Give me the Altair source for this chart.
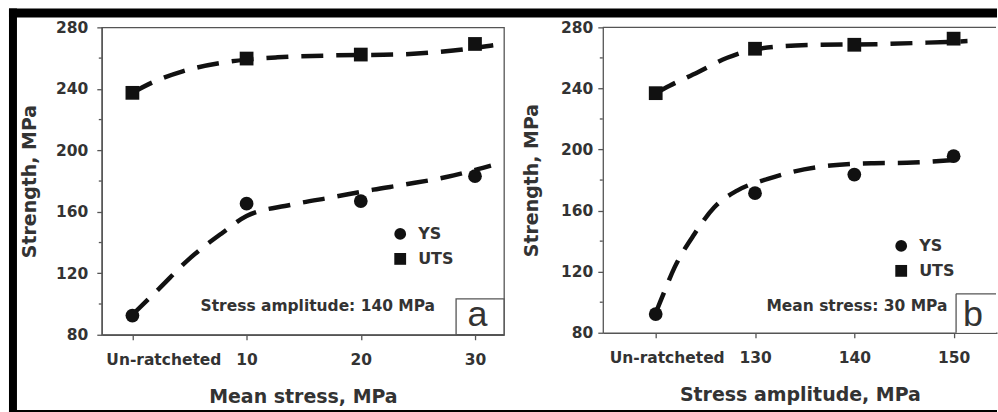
import altair as alt
import pandas as pd

FONT = "DejaVu Sans"
TXT = "#333333"
AX = "#555555"
INK = "#111111"

# ---------------- shared labels / text ----------------
series_names = ["YS", "UTS"]
y_title = "Strength, MPa"
unratcheted = "Un-ratcheted"
y_ticks = [80, 120, 160, 200, 240, 280]
y_minor = [100, 140, 180, 220, 260]

# ---------------- panel a: varying mean stress ----------------
a_title = "Mean stress, MPa"
a_note = "Stress amplitude: 140 MPa"
a_letter = "a"
a_x = [0, 10, 20, 30]
a_ys = [92.5, 165.3, 167.0, 183.2]
a_uts = [237.4, 259.7, 262.3, 269.2]
a_fit_ys_x = [0, 2.3, 5.1, 7.9, 10, 13.8, 17.6, 21.1, 23.9, 27.5, 30.7, 31.4]
a_fit_ys_y = [93, 109.7, 130.2, 146.4, 157.3, 164.4, 169.6, 174.4, 177.8, 182.6, 188.6, 190]
a_fit_uts_x = [0, 2, 4.4, 7.7, 10, 12.7, 17.9, 22.9, 28.1, 31.0, 31.6]
a_fit_uts_y = [237.5, 245, 251.4, 256.8, 259, 260.5, 261.8, 262.3, 264.9, 267.7, 268.3]

# ---------------- panel b: varying stress amplitude ----------------
b_title = "Stress amplitude, MPa"
b_note = "Mean stress: 30 MPa"
b_letter = "b"
b_x = [120, 130, 140, 150]
b_ys = [92.2, 171.4, 183.6, 195.6]
b_uts = [236.9, 266.0, 268.6, 272.6]
b_fit_ys_x = [120, 120.5, 121.9, 123.9, 125.9, 128.2, 131.3, 133.6, 137.6, 142, 145.3, 149.3, 151.4]
b_fit_ys_y = [93, 101, 122.8, 144.7, 162.2, 173.1, 180.8, 185.1, 189.5, 191, 191.3, 192.8, 193.9]
b_fit_uts_x = [120, 121.4, 124.2, 127.2, 130.3, 135.3, 142.3, 147.3, 151.4]
b_fit_uts_y = [237, 241.8, 250.5, 260.1, 266, 268.4, 269, 270, 271]


def one_row():
    return pd.DataFrame({"k": [0]})


def hrule(x1, x2, y):
    return alt.Chart(one_row()).mark_rule(color=AX, strokeWidth=1.3).encode(
        x=alt.value(x1), x2=alt.value(x2), y=alt.value(y))


def vrule(x, y1, y2):
    return alt.Chart(one_row()).mark_rule(color=AX, strokeWidth=1.3).encode(
        x=alt.value(x), y=alt.value(y1), y2=alt.value(y2))


def panel(xs, ys, uts, fx1, fy1, fx2, fy2, domain, width, height, un_value,
          un_offset, ylabpad, ytitlepad, legend_xy, note, note_xy, box, letter,
          letter_xy, xtitle, frame=False):
    pts = pd.DataFrame({"x": xs + xs, "v": ys + uts,
                        "series": [series_names[0]] * len(xs) + [series_names[1]] * len(xs)})
    fit = pd.DataFrame({"x": fx1 + fx2, "v": fy1 + fy2,
                        "series": [series_names[0]] * len(fx1) + [series_names[1]] * len(fx2)})
    minor = pd.DataFrame({"v": y_minor})

    x_axis = alt.Axis(
        values=xs,
        labelExpr=f"datum.value == {un_value} ? '{unratcheted}' : datum.label",
        labelOffset={"condition": {"test": f"datum.value == {un_value}", "value": un_offset}, "value": 0},
        labelFlush=False, labelOverlap=False, labelPadding=13, titlePadding=19,
        grid=False,
    )
    y_axis = alt.Axis(values=y_ticks, labelPadding=ylabpad, titlePadding=ytitlepad, grid=False)
    xenc = alt.X("x:Q", scale=alt.Scale(domain=domain, nice=False, zero=False), axis=x_axis, title=xtitle)
    yenc = alt.Y("v:Q", scale=alt.Scale(domain=[80, 280], nice=False, zero=False), axis=y_axis, title=y_title)

    layers = []
    if frame:
        layers += [
            alt.Chart(one_row()).mark_rect(color="black").encode(
                x=alt.value(-93), x2=alt.value(897), y=alt.value(-19), y2=alt.value(-10)),
            alt.Chart(one_row()).mark_rect(color="black").encode(
                x=alt.value(-93), x2=alt.value(-85), y=alt.value(-19), y2=alt.value(386)),
            alt.Chart(one_row()).mark_rect(color="black").encode(
                x=alt.value(-93), x2=alt.value(897), y=alt.value(383.5), y2=alt.value(386)),
        ]
    else:
        # open-ended plot frame: top line only (right side runs off the picture)
        layers.append(hrule(0, width - 1, 0))
    layers += [
        alt.Chart(minor).mark_rule(color=AX, strokeWidth=1.3).encode(
            y=yenc, x=alt.value(-3), x2=alt.value(0)),
        alt.Chart(fit).mark_line(color=INK, strokeWidth=4.5, strokeDash=[22, 13],
                                 interpolate="monotone").encode(
            x=xenc, y=yenc, detail="series:N"),
        alt.Chart(pts).mark_point(filled=True, size=190, color=INK, opacity=1).encode(
            x=xenc, y=yenc,
            shape=alt.Shape("series:N",
                            scale=alt.Scale(domain=series_names, range=["circle", "square"]),
                            legend=alt.Legend(
                                title=None, orient="none", legendX=legend_xy[0], legendY=legend_xy[1],
                                labelFont=FONT, labelFontWeight="bold", labelFontSize=16,
                                labelColor=TXT, symbolFillColor=INK, symbolStrokeColor=INK,
                                symbolSize=140, rowPadding=7, labelOffset=10, padding=0)),
        ),
        alt.Chart(one_row()).mark_text(align="left", baseline="middle", font=FONT,
                                       fontWeight="bold", fontSize=15.5, color=TXT).encode(
            x=alt.value(note_xy[0]), y=alt.value(note_xy[1]), text=alt.value(note)),
    ]
    if frame:
        layers.append(alt.Chart(one_row()).mark_rect(fill="white", stroke=AX, strokeWidth=1.3).encode(
            x=alt.value(box[0]), x2=alt.value(box[1]), y=alt.value(box[2]), y2=alt.value(box[3])))
    else:
        layers.append(alt.Chart(one_row()).mark_rect(fill="white").encode(
            x=alt.value(box[0]), x2=alt.value(box[1]), y=alt.value(box[2]), y2=alt.value(box[3])))
        layers.append(hrule(box[0], box[1], box[2]))
        layers.append(vrule(box[0], box[2], box[3]))
    layers.append(alt.Chart(one_row()).mark_text(align="center", baseline="alphabetic",
                                                 font="Liberation Sans", fontSize=36, color=TXT).encode(
        x=alt.value(letter_xy[0]), y=alt.value(letter_xy[1]), text=alt.value(letter)))
    ch = alt.layer(*layers).properties(width=width, height=height)
    if not frame:
        ch = ch.properties(view=alt.ViewBackground(stroke="transparent"))
    return ch


pa = panel(a_x, a_ys, a_uts, a_fit_ys_x, a_fit_ys_y, a_fit_uts_x, a_fit_uts_y,
           domain=[-2.68, 32.54], width=403, height=308, un_value=0, un_offset=31,
           ylabpad=9, ytitlepad=16, legend_xy=(291, 199), note=a_note, note_xy=(99, 279),
           box=(355, 403, 272, 308), letter=a_letter, letter_xy=(376.5, 299),
           xtitle=a_title, frame=True)

pb = panel(b_x, b_ys, b_uts, b_fit_ys_x, b_fit_ys_y, b_fit_uts_x, b_fit_uts_y,
           domain=[114.67, 154.37], width=395, height=306, un_value=120, un_offset=11,
           ylabpad=5, ytitlepad=19, legend_xy=(291, 211), note=b_note, note_xy=(164, 279),
           box=(354, 394, 267, 306), letter=b_letter, letter_xy=(371, 299),
           xtitle=b_title)

chart = (
    alt.hconcat(pa, pb, spacing=99, bounds="flush")
    .resolve_scale(x="independent", y="independent", shape="independent")
    .resolve_legend(shape="independent")
    .properties(padding={"left": 8, "top": 7, "right": 0, "bottom": 0}, background="white")
    .configure_view(stroke=AX, strokeWidth=1.3)
    .configure_axis(
        labelFont=FONT, labelFontWeight="bold", labelFontSize=15.5, labelColor=TXT,
        titleFont=FONT, titleFontWeight="bold", titleFontSize=19, titleColor=TXT,
        tickColor=AX, tickSize=5, tickWidth=1.3, domainColor=AX, domainWidth=1.3,
    )
)

chart.save("out.html", embed_options={"renderer": "svg", "actions": False})
